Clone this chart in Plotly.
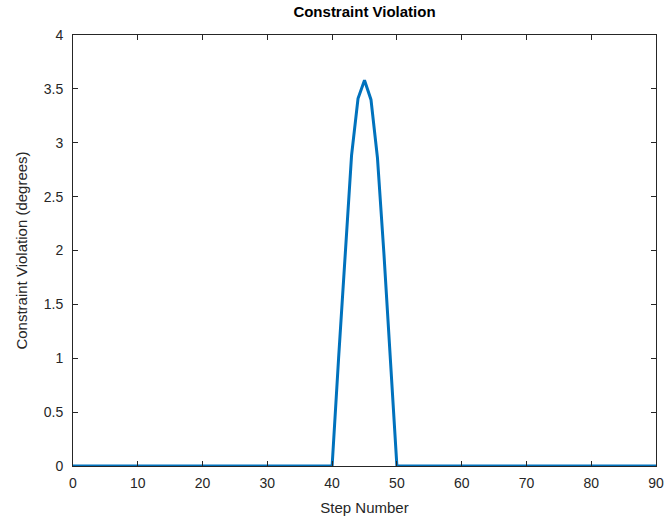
import plotly.graph_objects as go

steps = list(range(0, 91))
peak_steps = [41, 42, 43, 44, 45, 46, 47, 48, 49]
peak_values = [1.0, 1.97, 2.88, 3.41, 3.58, 3.40, 2.86, 1.97, 1.0]
violation = [0.0] * len(steps)
for s, v in zip(peak_steps, peak_values):
    violation[steps.index(s)] = v

x_ticks = [0, 10, 20, 30, 40, 50, 60, 70, 80, 90]
y_ticks = [0, 0.5, 1, 1.5, 2, 2.5, 3, 3.5, 4]

fig = go.Figure()
fig.add_trace(go.Scatter(x=steps, y=violation, mode="lines",
                         line=dict(color="#0072BD", width=3), cliponaxis=False))

axis_common = dict(showline=True, linecolor="#262626", linewidth=1, mirror="ticks",
                   ticks="inside", ticklen=5, tickcolor="#262626", showgrid=False,
                   zeroline=False, automargin=False,
                   tickfont=dict(size=14, color="#262626"))

fig.update_layout(
    width=667, height=519,
    margin=dict(l=73, r=11, t=35, b=53),
    plot_bgcolor="white", paper_bgcolor="white",
    font=dict(family="Liberation Sans, Arial, sans-serif", color="#262626"),
    showlegend=False,
    title=dict(text="<b>Constraint Violation</b>", x=0.5, xanchor="center",
               xref="paper", y=0.988, yanchor="top", font=dict(size=15, color="black")),
    xaxis=dict(range=[0, 90], tickvals=x_ticks, ticklabelstandoff=4,
               title=dict(text="Step Number", font=dict(size=15), standoff=12), **axis_common),
    yaxis=dict(range=[0, 4], tickvals=y_ticks, ticklabelstandoff=6,
               title=dict(text="Constraint Violation (degrees)", font=dict(size=15), standoff=12), **axis_common),
)

fig.write_html("out.html")
